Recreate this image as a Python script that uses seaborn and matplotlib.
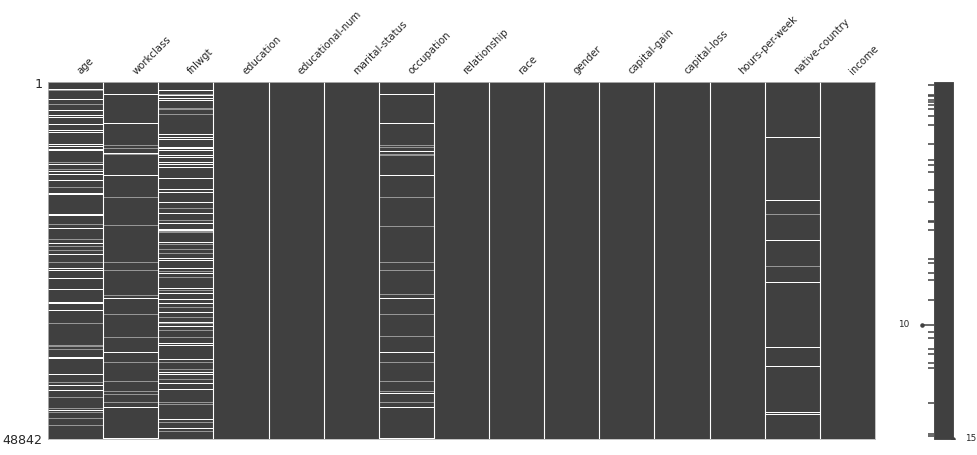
import numpy as np
import pandas as pd
import matplotlib
matplotlib.use("Agg")
import matplotlib.pyplot as plt
import seaborn as sns
from matplotlib.colors import LinearSegmentedColormap

# Columnas del dataset
columns = ["age", "workclass", "fnlwgt", "education", "educational-num",
           "marital-status", "occupation", "relationship", "race", "gender",
           "capital-gain", "capital-loss", "hours-per-week", "native-country",
           "income"]
n_rows = 48842

# Filas con valores nulos visibles en la matriz (gaps = linea blanca, faint = linea gris)
age_gaps = [958, 2367, 3967, 4610, 4884, 5882, 6607, 6881, 8618, 8892, 9302, 9439,
            11354, 12271, 12722, 13543, 15226, 15458, 18153, 18290, 20014, 22162,
            23571, 25541, 25814, 26854, 28454, 30192, 30329, 31327, 37757, 37894,
            39987, 41587, 42230, 44966]
age_faint = [1231, 3146, 10985, 12038, 14460, 19562, 21614, 22531, 23078, 24720,
             33106, 36115, 36252, 36662, 41136, 43133, 44693, 45240, 46061, 46963]

workclass_gaps = [1683, 5650, 9754, 12818, 29645, 37032, 44501, 48742]
workclass_faint = [8714, 9070, 9986, 15828, 19699, 24665, 25814, 29234, 31874,
                   34925, 38400, 40999, 42367, 42818, 43872]

fnlwgt_gaps = [1231, 1915, 2230, 2503, 7250, 7620, 7839, 8988, 9166, 9439, 10082,
               10356, 10985, 11259, 11724, 13174, 14774, 15089, 16457, 18058, 19330,
               20178, 20315, 21984, 24118, 24446, 25486, 26266, 28222, 29002, 29727,
               30370, 31560, 32873, 33475, 35842, 36115, 38030, 39768, 39987, 41314,
               42039, 46143, 47470]
fnlwgt_faint = [1642, 3653, 3789, 4419, 17278, 18974, 20452, 20588, 22298, 22887,
                23434, 25951, 26717, 28550, 30821, 32189, 33106, 34022, 34925, 38400,
                39398, 40671, 43872, 44186, 46608, 47839]

occupation_gaps = [1642, 5650, 9535, 12818, 29590, 36977, 42641, 44501, 48742]
occupation_faint = [8714, 9029, 9891, 10082, 15828, 19740, 24665, 25814, 29138,
                    31779, 34884, 38400, 40999, 42367, 43817]

country_gaps = [7620, 16279, 21655, 27456, 36293, 38947, 45185, 45459]
country_faint = [18194, 25212]

# Completitud por fila (sparkline): banda base y picos
spark_floor = 12
spark_max = 15
spark_rows = [274, 1642, 1915, 2462, 2695, 3146, 3598, 4610, 5882, 8386, 10670,
              11354, 12271, 14679, 16375, 18974, 19111, 20246, 24214, 24665, 26033,
              26991, 29822, 33147, 34159, 34925, 36430, 37114, 38400, 39029, 43817,
              48154, 48386]
spark_values = [11] * 23 + [10] + [11] * 9

# Construir la matriz de nulos (por bandas de pixeles)
n_bins = 357
shade = np.zeros((n_bins, len(columns)))


def marcar(col, rows, weight):
    j = columns.index(col)
    for r in rows:
        b = int(r * n_bins / n_rows)
        shade[b, j] = max(shade[b, j], weight)


marcar("age", age_gaps, 1.0)
marcar("age", age_faint, 0.45)
marcar("workclass", workclass_gaps, 1.0)
marcar("workclass", workclass_faint, 0.45)
marcar("fnlwgt", fnlwgt_gaps, 1.0)
marcar("fnlwgt", fnlwgt_faint, 0.45)
marcar("occupation", occupation_gaps, 1.0)
marcar("occupation", occupation_faint, 0.45)
marcar("native-country", country_gaps, 1.0)
marcar("native-country", country_faint, 0.45)

matriz = pd.DataFrame(shade, columns=columns)

sns.set_style("white")
plt.rcParams["font.family"] = ["DejaVu Sans"]

fig = plt.figure(figsize=(9.77, 4.55), dpi=100)
ax0 = fig.add_axes([48 / 977, 16 / 455, 827 / 977, 357 / 455])
ax1 = fig.add_axes([909.6 / 977, 16 / 455, 55.8 / 977, 357 / 455])

gris = (0.25, 0.25, 0.25)
cmap = LinearSegmentedColormap.from_list("nulos", [gris, (1, 1, 1)])
sns.heatmap(matriz, ax=ax0, cmap=cmap, vmin=0, vmax=1, cbar=False,
            xticklabels=True, yticklabels=False)

ax0.xaxis.tick_top()
ax0.set_xticks(np.arange(len(columns)) + 0.5)
ax0.set_xticklabels(columns, rotation=45, ha="left", fontsize=7.3, color="0.15")
ax0.set_yticks([0.5, n_bins - 0.5])
ax0.set_yticklabels(["1", str(n_rows)], rotation=0, fontsize=9.1, color="0.15")
ax0.tick_params(length=0, pad=4)
ax0.set_xlabel("")
ax0.set_ylabel("")
for x in range(1, len(columns)):
    ax0.axvline(x, color="white", lw=0.8)
# borde claro alrededor de la matriz
for lado in ["top", "bottom", "left", "right"]:
    ax0.spines[lado].set_visible(True)
    ax0.spines[lado].set_color("0.72")
    ax0.spines[lado].set_linewidth(0.6)

# Sparkline de completitud: banda base + picos
ax1.fill_betweenx([0, n_bins], spark_floor, spark_max,
                  facecolor=gris, edgecolor=gris, lw=0.6)
spark_bins = [int(r * n_bins / n_rows) + 0.5 for r in spark_rows]
ax1.hlines(spark_bins, spark_values, spark_floor, color=gris, lw=1.1)
ax1.set_xlim(min(spark_values) - 2, spark_max + 2)
ax1.set_ylim(n_bins, 0)
ax1.set_axis_off()

min_val = min(spark_values)
min_bin = spark_bins[spark_values.index(min_val)]
max_bin = n_bins - 0.5
ax1.plot([min_val], [min_bin], ".", color=gris, markersize=4.5)
ax1.plot([spark_max], [max_bin], ".", color=gris, markersize=4.5)
ax1.annotate(str(min_val), xy=(min_val, min_bin), xytext=(min_val - 2, min_bin),
             fontsize=6.4, va="center", ha="right", color="0.15")
ax1.annotate(str(spark_max), xy=(spark_max, max_bin), xytext=(spark_max + 2, max_bin),
             fontsize=6.4, va="center", ha="left", color="0.15")

plt.savefig("out.png", dpi=100)
